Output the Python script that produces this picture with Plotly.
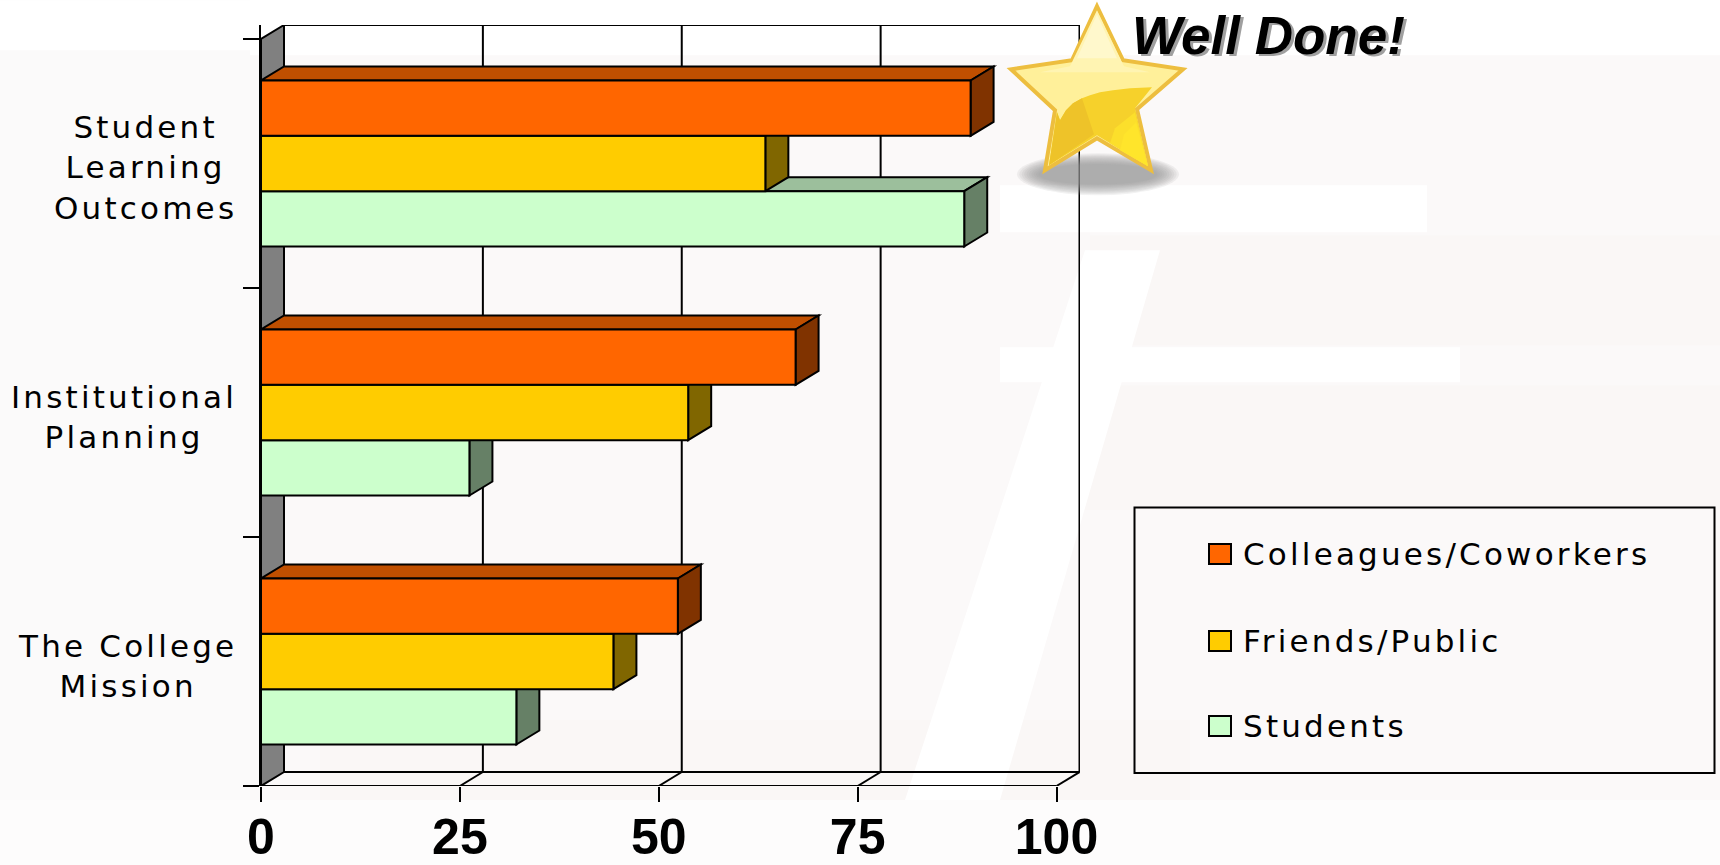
import plotly.graph_objects as go

categories = ["The College<br>Mission", "Institutional<br>Planning", "Student<br>Learning<br>Outcomes"]
series_names = ["Students", "Friends/Public", "Colleagues/Coworkers"]
students = [32.1, 26.2, 88.4]
friends = [44.3, 53.7, 63.4]
colleagues = [52.4, 67.2, 89.2]
x_ticks = [0, 25, 50, 75, 100]
y_positions = [0.5, 1.5, 2.5]
y_edges = [0, 1, 2, 3]
front_colors = ["#CCFFCC", "#FFCC00", "#FF6600"]
top_colors = ["#9CBF9C", "#BF9900", "#C04F00"]
side_colors = ["#668066", "#806600", "#803300"]
series_values = [students, friends, colleagues]
W, H = 1720, 865
L, R, T, B = 261, 1080, 24.7, 786
X_UNIT = 7.955
Y_UNIT = 249.1
DX = 23 / X_UNIT
DY = 14 / Y_UNIT
XMAX = (R - L) / X_UNIT
YMAX = (B - T) / Y_UNIT
GROUP = 1 - 1 / 3
BAR_H = GROUP / 3
LW = 2


def px(x):
    return (x - L) / (R - L)


def py(y):
    return (B - y) / (B - T)


def poly(points):
    return "M" + " L".join(f"{a},{b}" for a, b in points) + " Z"


def pixel_poly(points):
    return poly([(px(a), py(b)) for a, b in points])


def blob(points, color, opacity=1.0, layer="below", line=None, width=0):
    return dict(type="path", xref="paper", yref="paper", path=pixel_poly(points), fillcolor=color,
                opacity=opacity, layer=layer, line=dict(color=line or color, width=width))


def data_poly(points, color, layer="below"):
    return dict(type="path", xref="x", yref="y", path=poly(points), fillcolor=color, layer=layer,
                line=dict(color="black", width=LW))


def line(x0, y0, x1, y1):
    return dict(type="line", xref="x", yref="y", x0=x0, y0=y0, x1=x1, y1=y1, layer="below",
                line=dict(color="black", width=LW))


shapes = []
# faint photographic backdrop
shapes.append(blob([(0, 55), (1720, 55), (1720, 800), (0, 800)], "#fbf9f9"))
shapes.append(blob([(0, 800), (1720, 800), (1720, 865), (0, 865)], "#fdfcfc"))
shapes.append(blob([(0, 0), (250, 0), (250, 800), (0, 800)], "#fbfafa"))
for pts in [
    [(320, 800), (1190, 800), (1190, 720), (320, 720)],
    [(1095, 385), (1720, 385), (1720, 510), (1050, 510)],
    [(1090, 235), (1720, 235), (1720, 345), (1090, 345)],
]:
    shapes.append(blob(pts, "#faf7f6"))
for pts in [
    [(1000, 185), (1427, 185), (1427, 232), (1000, 232)],
    [(1000, 347), (1460, 347), (1460, 382), (1000, 382)],
    [(905, 800), (1085, 250), (1160, 250), (1000, 800)],
    [(0, 0), (1720, 0), (1720, 50), (0, 50)],
]:
    shapes.append(blob(pts, "#ffffff"))

# back wall, floor and gridlines
shapes.append(data_poly([(0, 0), (DX, DY), (DX, 3 + DY), (0, 3)], "#808080"))
shapes.append(line(DX, 3 + DY, 100 + DX, 3 + DY))
shapes.append(line(DX, DY, 100 + DX, DY))
shapes.append(line(0, 0, 100, 0))
for t in x_ticks[1:]:
    shapes.append(line(t + DX, DY, t + DX, 3 + DY))
    shapes.append(line(t, 0, t + DX, DY))

# depth faces of each bar, drawn from the lowest series upward
for i, y_mid in enumerate(y_positions):
    for k, values in enumerate(series_values):
        v = values[i]
        y0 = y_mid - GROUP / 2 + k * BAR_H
        y1 = y0 + BAR_H
        shapes.append(data_poly([(0, y1), (v, y1), (v + DX, y1 + DY), (DX, y1 + DY)], top_colors[k]))
        shapes.append(data_poly([(v, y0), (v + DX, y0 + DY), (v + DX, y1 + DY), (v, y1)], side_colors[k]))

# legend box
LEGEND_BOX = [(1134.5, 507.5), (1714.5, 507.5), (1714.5, 773), (1134.5, 773)]
shapes.append(dict(type="path", xref="paper", yref="paper", path=pixel_poly(LEGEND_BOX),
                   fillcolor="rgba(0,0,0,0)", line=dict(color="black", width=LW), layer="below"))
legend_rows = [554, 641, 726]
annotations = []
SPACE = '<span style="letter-spacing:3.2px">{}</span>'
for name, color, y in zip(series_names[::-1], front_colors[::-1], legend_rows):
    shapes.append(blob([(1209, y - 10), (1231, y - 10), (1231, y + 10), (1209, y + 10)], color,
                       line="black", width=LW))
    annotations.append(dict(xref="paper", yref="paper", x=px(1241), y=py(y), xanchor="left", yanchor="middle",
                            showarrow=False, text=SPACE.format(name),
                            font=dict(family="DejaVu Sans", size=31, color="black")))

# category labels
for label, y in zip(categories, y_positions):
    annotations.append(dict(xref="paper", yref="y", x=px(239), y=y, xanchor="right", yanchor="middle",
                            yshift=-4, showarrow=False, align="center",
                            text="<br>".join(SPACE.format(s) for s in label.split("<br>")),
                            font=dict(family="DejaVu Sans", size=31, color="black")))

# star with shadow
for step in range(10):
    rx, ry = 81 - step * 2.4, 21 - step * 1.2
    shapes.append(dict(type="circle", xref="paper", yref="paper", x0=px(1098 - rx), x1=px(1098 + rx),
                       y0=py(174 - ry), y1=py(174 + ry), fillcolor="#909090", opacity=0.12,
                       line=dict(width=0), layer="above"))
STAR = [(1097, 6), (1123, 60), (1183, 69), (1137, 109), (1151, 170), (1097, 138), (1045, 170),
        (1055, 110), (1011, 69), (1072, 60)]
shapes.append(blob(STAR, "#FFF09A", layer="above", line="#EDBE3F", width=4))
for pts, color in [
    ([(1097, 10), (1124, 66), (1150, 72), (1040, 72), (1070, 66)], "#FFF4B2"),
    ([(1097, 14), (1117, 58), (1077, 58)], "#FFF8CC"),
    ([(1060, 120), (1066, 110), (1073, 103), (1082, 98), (1090, 95), (1100, 92), (1113, 90), (1130, 88), (1152, 87),
      (1135, 108), (1148, 166), (1097, 135), (1049, 165), (1057, 112)], "#F6D12B"),
    ([(1060, 120), (1066, 110), (1073, 103), (1082, 98), (1094, 134), (1049, 165), (1057, 112)], "#EEC329"),
    ([(1115, 128), (1135, 112), (1148, 166), (1110, 143)], "#FCDF2B"),
    ([(1124, 134), (1136, 122), (1148, 166), (1120, 150)], "#FFE52B"),
]:
    shapes.append(blob(pts, color, layer="above"))

for color, x, y in [("#a0a0a0", 1271, 37.5), ("black", 1268.7, 35.2)]:
    annotations.append(dict(xref="paper", yref="paper", x=px(x), y=py(y), showarrow=False, xanchor="center",
                            yanchor="middle", text="<b><i>Well Done!</i></b>",
                            font=dict(family="Liberation Sans", size=53, color=color)))

fig = go.Figure()
for name, values, color in zip(series_names, series_values, front_colors):
    fig.add_trace(go.Bar(name=name, y=y_positions, x=values, orientation="h", marker_color=color,
                         marker_line=dict(color="black", width=LW), showlegend=False))
# invisible carrier for the category-boundary ticks
fig.add_trace(go.Scatter(x=[0, 0, 0, 0], y=y_edges, yaxis="y2", mode="markers", marker=dict(opacity=0),
                         showlegend=False, hoverinfo="skip"))

fig.update_layout(
    width=W, height=H, autosize=False,
    margin=dict(l=L, r=W - R, t=T, b=H - B, pad=0),
    paper_bgcolor="white", plot_bgcolor="rgba(0,0,0,0)",
    barmode="group", bargap=1 / 3, bargroupgap=0,
    shapes=shapes, annotations=annotations, showlegend=False,
    xaxis=dict(range=[0, XMAX], tickvals=x_ticks, ticks="outside", ticklen=15, tickwidth=LW, tickcolor="black",
               showgrid=False, zeroline=False, showline=False, automargin=False, ticklabelstandoff=-8,
               tickfont=dict(family="Liberation Sans", size=50, color="black", weight="bold")),
    yaxis=dict(range=[0, YMAX], showticklabels=False, ticks="", showgrid=False, zeroline=False, showline=False,
               automargin=False),
    yaxis2=dict(range=[0, YMAX], overlaying="y", side="left", tickvals=y_edges, ticks="outside", ticklen=16,
                tickwidth=LW, tickcolor="black", showticklabels=False, showgrid=False, zeroline=False,
                showline=True, linecolor="black", linewidth=LW, automargin=False),
)
fig.write_html("out.html", config=dict(displayModeBar=False),
               post_script="document.body.style.margin='0';document.body.style.overflow='hidden';")
